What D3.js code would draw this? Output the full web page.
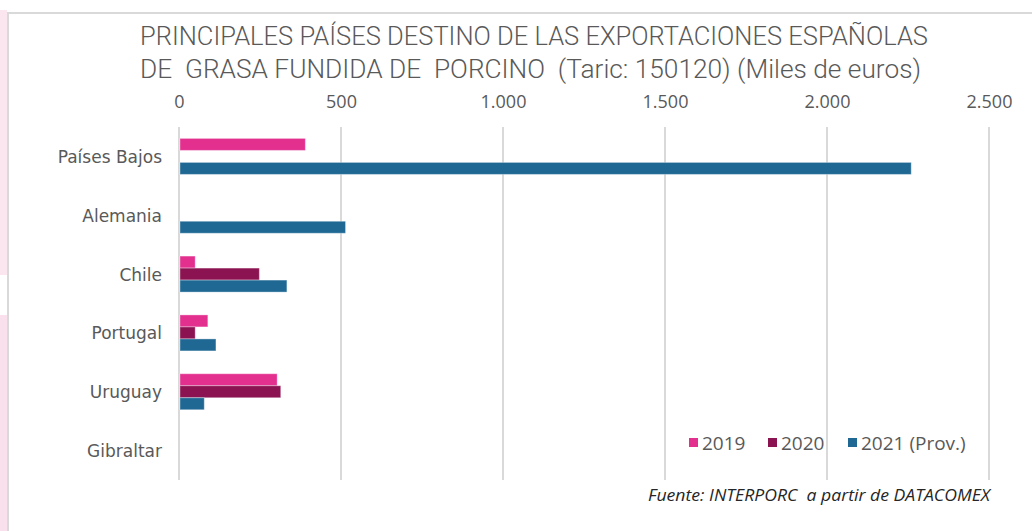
<!DOCTYPE html>
<html>
<head>
<meta charset="utf-8">
<script src="https://cdn.jsdelivr.net/npm/d3@7"></script>
<style>
  html, body { margin: 0; padding: 0; background: #fff; }
  svg { display: block; }
</style>
</head>
<body>
<svg id="chart" width="1032" height="531"></svg>
<script>
// Export destinations (thousand euros)
const countries = ["Países Bajos", "Alemania", "Chile", "Portugal", "Uruguay", "Gibraltar"];
const seriesNames = ["2019", "2020", "2021 (Prov.)"];
const values2019 = [390, 0, 50, 89, 303, 0];
const values2020 = [0, 0, 248, 50, 314, 0];
const values2021 = [2260, 514, 333, 114, 78, 0];
const tickValues = [0, 500, 1000, 1500, 2000, 2500];
const tickLabels = ["0", "500", "1.000", "1.500", "2.000", "2.500"];
const colors = ["#e3308f", "#8c1352", "#1f6894"];

const seriesValues = [values2019, values2020, values2021];
const rows = countries.map((c, i) => ({
  country: c,
  vals: seriesValues.map((arr, s) => ({ series: seriesNames[s], value: arr[i], idx: s }))
}));

const svg = d3.select("#chart");
const textColor = "#595959";

// Frame of the chart area
svg.append("rect").attr("x", 0).attr("y", 10).attr("width", 7).attr("height", 265).attr("fill", "#fbe6ef");
svg.append("rect").attr("x", 0).attr("y", 315).attr("width", 7).attr("height", 216).attr("fill", "#f9e0ec");
svg.append("line").attr("x1", 8).attr("x2", 1032).attr("y1", 13).attr("y2", 13)
  .attr("stroke", "#d9d9d9").attr("stroke-width", 2);
svg.append("line").attr("x1", 8).attr("x2", 8).attr("y1", 12).attr("y2", 531)
  .attr("stroke", "#d9d9d9").attr("stroke-width", 2);

// Title
const titleFont = "Roboto, 'Liberation Sans', sans-serif";
svg.append("text")
  .attr("x", 140).attr("y", 45)
  .attr("textLength", 788).attr("lengthAdjust", "spacingAndGlyphs")
  .attr("font-family", titleFont).attr("font-weight", 300)
  .attr("font-size", 26).attr("fill", textColor)
  .text("PRINCIPALES PAÍSES DESTINO DE LAS EXPORTACIONES ESPAÑOLAS");
svg.append("text")
  .attr("x", 140).attr("y", 78)
  .attr("textLength", 781).attr("lengthAdjust", "spacingAndGlyphs")
  .attr("xml:space", "preserve")
  .attr("font-family", titleFont).attr("font-weight", 300)
  .attr("font-size", 26).attr("fill", textColor)
  .text("DE  GRASA FUNDIDA DE  PORCINO  (Taric: 150120) (Miles de euros)");

// Scales
const x = d3.scaleLinear().domain([0, 2500]).range([179, 989]);
const y = d3.scaleBand().domain(countries).range([127, 480])
  .paddingInner(0.388).paddingOuter(0.194);
const ySub = d3.scaleBand().domain(seriesNames).range([0, y.bandwidth()]);

// Gridlines
svg.append("g").selectAll("line").data(tickValues).join("line")
  .attr("x1", d => x(d)).attr("x2", d => x(d))
  .attr("y1", 127).attr("y2", 480)
  .attr("stroke", "#d9d9d9").attr("stroke-width", 2);

// Top value axis
const xAxis = d3.axisTop(x).tickValues(tickValues)
  .tickFormat((d, i) => tickLabels[i]).tickSize(0).tickPadding(0);
const gx = svg.append("g").attr("transform", "translate(0,108)").call(xAxis);
gx.select(".domain").remove();
gx.selectAll("text")
  .attr("font-family", "'Open Sans', 'Noto Sans', sans-serif")
  .attr("font-size", 18).attr("fill", textColor);

// Category axis
const yAxis = d3.axisLeft(y).tickSize(0).tickPadding(0);
const gy = svg.append("g").attr("transform", "translate(162,1)").call(yAxis);
gy.select(".domain").remove();
gy.selectAll("text")
  .attr("font-family", "'DejaVu Sans', sans-serif")
  .attr("font-size", 17).attr("fill", textColor);

// Bars
svg.append("g").selectAll("g").data(rows).join("g")
  .attr("transform", d => `translate(0,${y(d.country)})`)
  .selectAll("rect").data(d => d.vals.filter(v => v.value > 0)).join("rect")
  .attr("x", x(0) + 1)
  .attr("y", d => ySub(d.series))
  .attr("width", d => x(d.value) - x(0) - 1)
  .attr("height", ySub.bandwidth())
  .attr("fill", d => colors[d.idx])
  .attr("stroke", "#ffffff").attr("stroke-opacity", 0.35).attr("stroke-width", 1);

// Legend
const legendX = [689, 768, 848];
const lg = svg.append("g").selectAll("g").data(seriesNames).join("g")
  .attr("transform", (d, i) => `translate(${legendX[i]},443)`);
lg.append("rect").attr("x", 0).attr("y", -5).attr("width", 9).attr("height", 9)
  .attr("fill", (d, i) => colors[i]);
lg.append("text").attr("x", 13).attr("y", 0).attr("dy", "0.36em")
  .attr("font-family", "'Open Sans', 'Noto Sans', sans-serif")
  .attr("font-size", 19).attr("fill", textColor)
  .text(d => d);

// Source note
svg.append("text")
  .attr("x", 648).attr("y", 501)
  .attr("xml:space", "preserve")
  .attr("textLength", 342).attr("lengthAdjust", "spacingAndGlyphs")
  .attr("font-family", "'Open Sans', 'Noto Sans', sans-serif")
  .attr("font-style", "italic").attr("font-size", 17).attr("fill", "#262626")
  .text("Fuente: INTERPORC  a partir de DATACOMEX");
</script>
</body>
</html>
